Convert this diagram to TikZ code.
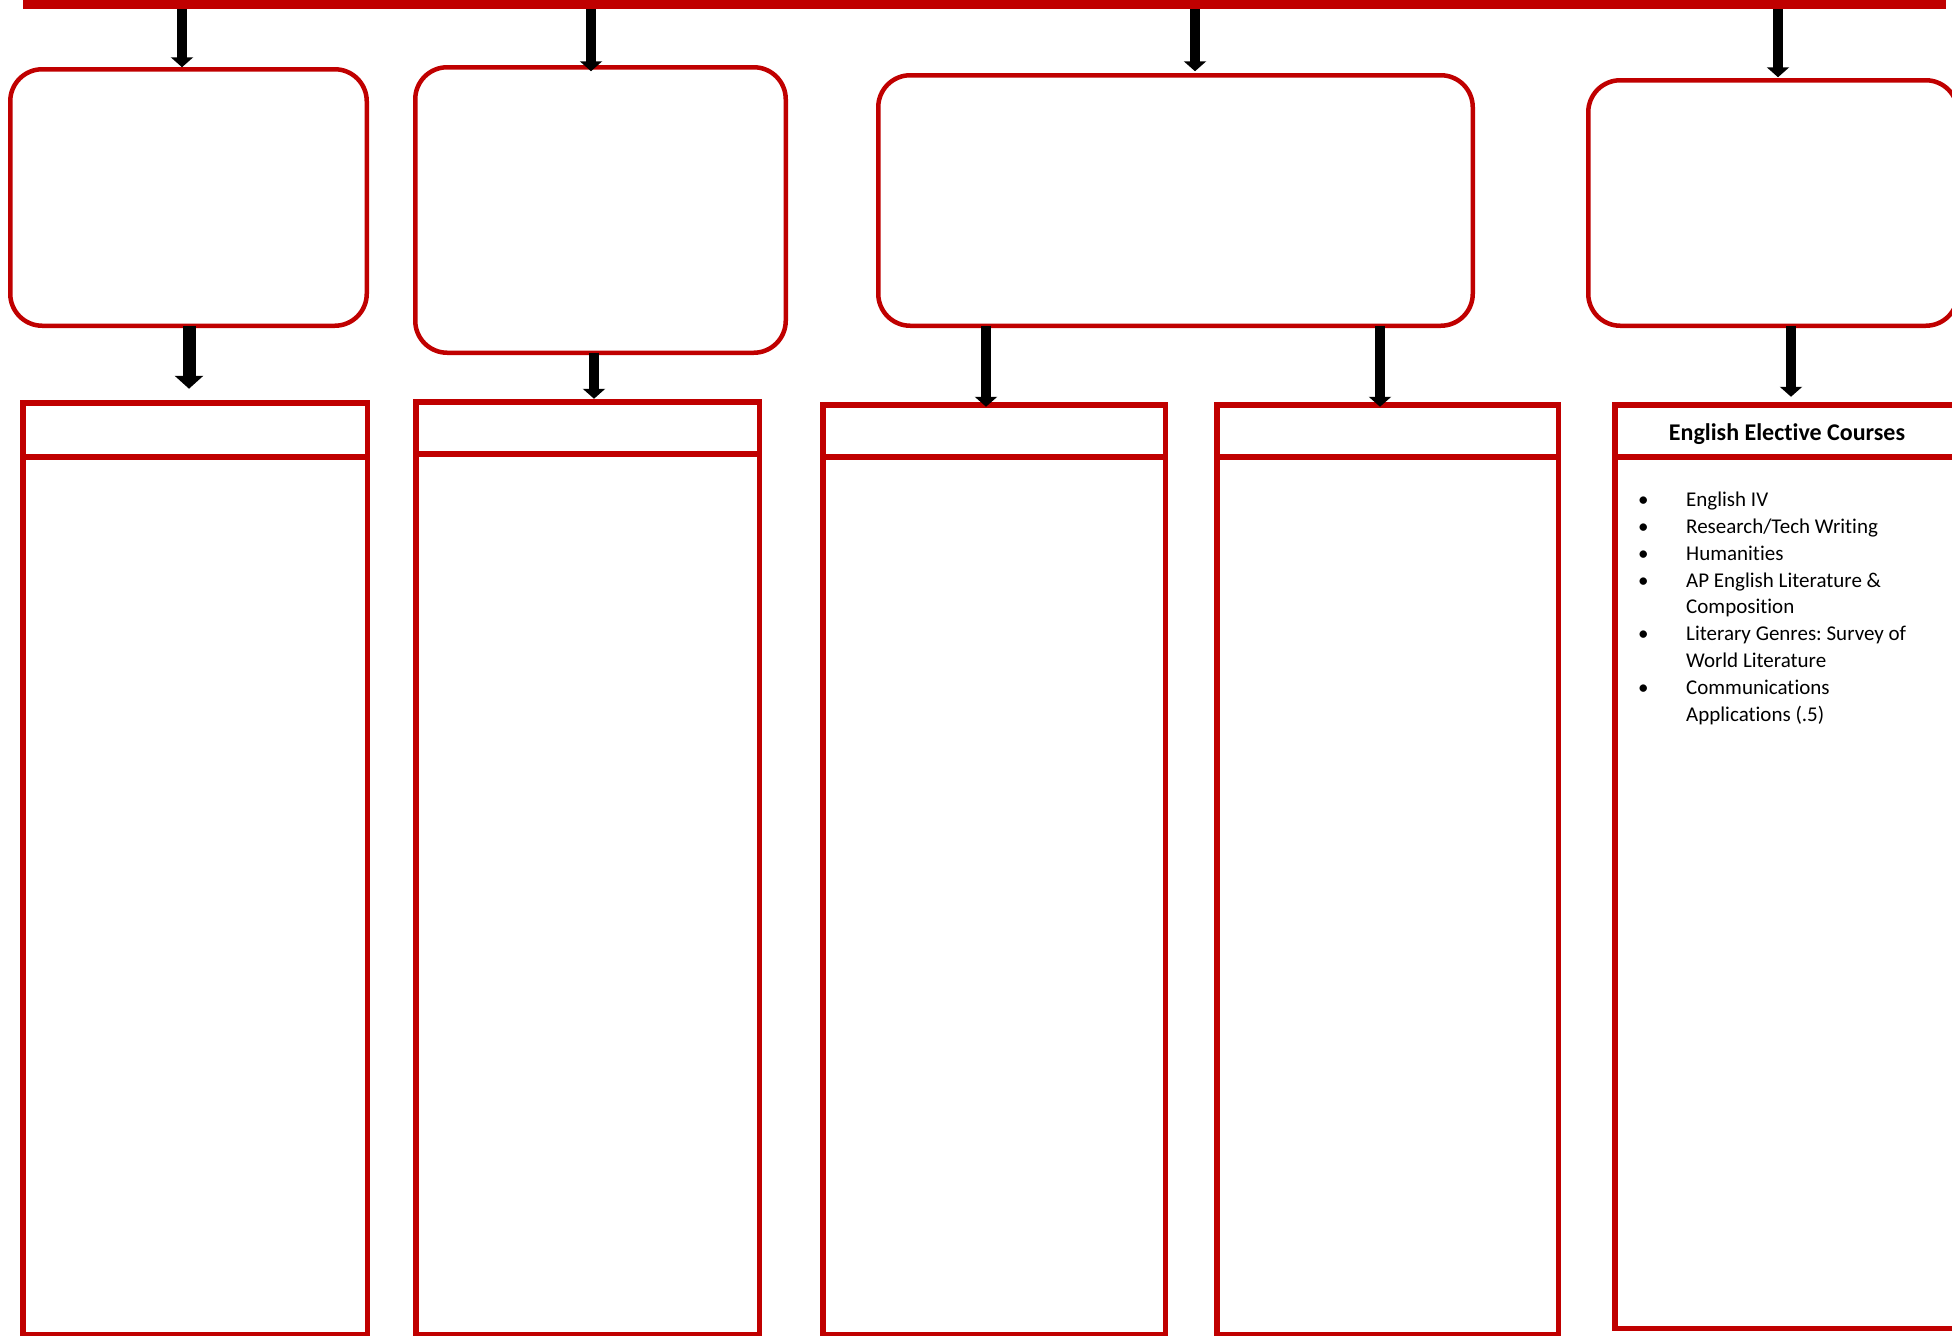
\documentclass[tikz,border=0pt]{standalone}
\usepackage{fontspec}
\setmainfont{Carlito}[Ligatures={NoCommon}]
\frenchspacing
\usetikzlibrary{arrows.meta}
\definecolor{boxred}{HTML}{C00000}
\tikzset{
  rbox/.style={draw=boxred, line width=4.5pt, rounded corners=32pt, inner sep=0pt, outer sep=0pt, fill=white},
  tbox/.style={draw=boxred, line width=5.5pt, inner sep=0pt, outer sep=0pt, fill=white},
  divider/.style={draw=boxred, line width=5.5pt},
  blk/.style={draw=black, line width=10pt, -{Triangle[width=22pt,length=10pt]}},
  blkbig/.style={draw=black, line width=13pt, -{Triangle[width=28pt,length=13pt]}},
}
\begin{document}
\begin{tikzpicture}[x=1pt,y=-1pt]
\useasboundingbox (0,0) rectangle (1952,1336);
\clip (0,0) rectangle (1952,1336);
\fill[white] (0,0) rectangle (1952,1336);

% top bar
\node[fill=boxred, minimum width=1923pt, minimum height=9pt, inner sep=0pt, outer sep=0pt] (bar) at (984.5,4.5) {};

% rounded boxes
\node[rbox, minimum width=356.5pt, minimum height=256.5pt] (b1) at (188.5,197.5) {};
\node[rbox, minimum width=370.5pt, minimum height=285.5pt] (b2) at (600.5,210) {};
\node[rbox, minimum width=594.5pt, minimum height=250.5pt] (b3) at (1175.5,200.5) {};
\node[rbox, minimum width=369.5pt, minimum height=245.5pt] (b4) at (1773,203) {};

% tables
\node[tbox, minimum width=344.5pt, minimum height=931.5pt] (t1) at (195,868.5) {};
\node[tbox, minimum width=343.5pt, minimum height=932.5pt] (t2) at (587.5,868) {};
\node[tbox, minimum width=342.5pt, minimum height=929.5pt] (t3) at (994,869.5) {};
\node[tbox, minimum width=341.5pt, minimum height=929.5pt] (t4) at (1387.5,869.5) {};
\node[tbox, minimum width=357.5pt, minimum height=923.5pt] (t5) at (1793.5,866.5) {};

\draw[divider] (t1.west |- 0,457) -- (t1.east |- 0,457);
\draw[divider] (t2.west |- 0,454) -- (t2.east |- 0,454);
\draw[divider] (t3.west |- 0,457) -- (t3.east |- 0,457);
\draw[divider] (t4.west |- 0,457) -- (t4.east |- 0,457);
\draw[divider] (t5.west |- 0,457) -- (t5.east |- 0,457);

% arrow x positions
\coordinate (x1) at (182,0);
\coordinate (x2) at (591,0);
\coordinate (x3) at (1195,0);
\coordinate (x4) at (1778,0);
\coordinate (y1) at (189,0);
\coordinate (y2) at (594,0);
\coordinate (y3) at (986,0);
\coordinate (y4) at (1380,0);
\coordinate (y5) at (1791,0);

% arrows from the bar
\draw[blk, shorten >=2pt] (bar.south -| x1) -- (x1 |- b1.north);
\draw[blk, shorten >=-4pt] (bar.south -| x2) -- (x2 |- b2.north);
\draw[blk, shorten >=4pt] (bar.south -| x3) -- (x3 |- b3.north);
\draw[blk, shorten >=3pt] (bar.south -| x4) -- (x4 |- b4.north);

% arrows from the boxes to the tables
\draw[blkbig, shorten >=14pt] (y1 |- b1.south) -- (y1 |- t1.north);
\draw[blk, shorten >=3pt] (y2 |- b2.south) -- (y2 |- t2.north);
\draw[blk, shorten >=-2pt] (y3 |- b3.south) -- (y3 |- t3.north);
\draw[blk, shorten >=-2pt] (y4 |- b3.south) -- (y4 |- t4.north);
\draw[blk, shorten >=8pt] (y5 |- b4.south) -- (y5 |- t5.north);

% texts
\node[font=\bfseries\fontsize{24}{28}\selectfont, anchor=base, inner sep=0pt] (t5head) at (1787,440) {English Elective Courses};
\node[anchor=base west, inner sep=0pt, font=\fontsize{21}{26.8}\selectfont] (t5list) at (1638,506.7) {%
\renewcommand\arraystretch{1}%
\begin{tabular}[t]{@{}p{48pt}@{}l@{}}
\textbullet & English IV\\
\textbullet & Research/Tech Writing\\
\textbullet & Humanities\\
\textbullet & AP English Literature \&\\
 & Composition\\
\textbullet & Literary Genres: Survey of\\
 & World Literature\\
\textbullet & Communications\\
 & Applications (.5)
\end{tabular}};
\end{tikzpicture}
\end{document}
